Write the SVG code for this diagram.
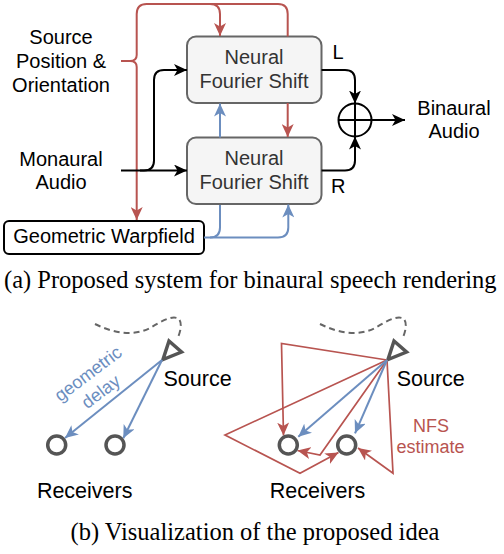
<svg xmlns="http://www.w3.org/2000/svg" width="504" height="554" viewBox="0 0 504 554">
<style>
.t{font-family:"Liberation Sans",Arial,sans-serif;font-size:20px;fill:#000}
.bt{font-family:"Liberation Sans",Arial,sans-serif;font-size:21.5px;fill:#000}
.cap{font-family:"Liberation Serif","Times New Roman",serif;font-size:24.5px;fill:#000}
.nfs{fill:#f5f5f5;stroke:#666;stroke-width:2}
.nt{font-family:"Liberation Sans",Arial,sans-serif;font-size:20px;fill:#333;text-anchor:middle}
.k{fill:none;stroke:#000;stroke-width:2}
.r{fill:none;stroke:#b85450;stroke-width:2}
.b{fill:none;stroke:#6c8ebf;stroke-width:2}
.r2{fill:none;stroke:#b85450;stroke-width:1.7}
.dev{fill:none;stroke:#555;stroke-width:3.5}
.dash{fill:none;stroke:#666;stroke-width:2;stroke-dasharray:6 4}
</style>
<defs>
<marker id="ak" markerUnits="userSpaceOnUse" viewBox="0 0 13 12" refX="13" refY="6" markerWidth="13" markerHeight="12" orient="auto"><path d="M0,0 L13,6 L0,12 L3.5,6 Z" fill="#000"/></marker>
<marker id="ar" markerUnits="userSpaceOnUse" viewBox="0 0 13 12" refX="13" refY="6" markerWidth="13" markerHeight="12" orient="auto"><path d="M0,0 L13,6 L0,12 L3.5,6 Z" fill="#b85450"/></marker>
<marker id="ab" markerUnits="userSpaceOnUse" viewBox="0 0 13 12" refX="13" refY="6" markerWidth="13" markerHeight="12" orient="auto"><path d="M0,0 L13,6 L0,12 L3.5,6 Z" fill="#6c8ebf"/></marker>
</defs>
<rect width="504" height="554" fill="#fff"/>

<g id="src-label">
<text class="t" text-anchor="middle" x="61" y="44">Source</text>
<text class="t" text-anchor="middle" x="61" y="67.5">Position &amp;</text>
<text class="t" text-anchor="middle" x="61" y="91.5">Orientation</text>
</g>
<g id="mono-label">
<text class="t" text-anchor="middle" x="61" y="165.5">Monaural</text>
<text class="t" text-anchor="middle" x="61" y="189">Audio</text>
</g>
<g id="nfs-top">
<rect class="nfs" x="187" y="36.5" width="134.5" height="66.5" rx="9"/>
<text class="nt" x="254" y="64">Neural</text>
<text class="nt" x="254" y="88">Fourier Shift</text>
</g>
<g id="nfs-bottom">
<rect class="nfs" x="187" y="137.5" width="134.5" height="66.5" rx="9"/>
<text class="nt" x="254" y="165">Neural</text>
<text class="nt" x="254" y="189">Fourier Shift</text>
</g>
<g id="warpfield">
<rect x="4" y="221" width="200" height="33" rx="5" fill="#fff" stroke="#000" stroke-width="2"/>
<text class="t" text-anchor="middle" x="104" y="242.5">Geometric Warpfield</text>
</g>
<g id="sum">
<circle cx="355" cy="120" r="16.5" fill="#fff" stroke="#000" stroke-width="2"/>
<path d="M338.5,120 H371.5 M355,103.5 V136.5" stroke="#000" stroke-width="2"/>
</g>
<g id="out-label">
<text class="t" text-anchor="middle" x="454" y="114.5">Binaural</text>
<text class="t" text-anchor="middle" x="454" y="138">Audio</text>
</g>

<g id="connectors">
<path class="r" d="M121,61 H130 Q136.7,61 136.7,55 V14 Q136.7,4 146.7,4 H278 Q287.7,4 287.7,14 V36.5"/>
<path class="r" d="M210,4 Q220,4 220,14 V36" marker-end="url(#ar)"/>
<path class="r" d="M287.7,103 V137" marker-end="url(#ar)"/>
<path class="r" d="M130,61 Q136.7,61 136.7,67 V220" marker-end="url(#ar)"/>
<path class="k" d="M121,170.5 H187" marker-end="url(#ak)"/>
<path class="k" d="M140,170.5 H144 Q154,170.5 154,160.5 V80 Q154,70 164,70 H187" marker-end="url(#ak)"/>
<path class="b" d="M204,237.5 H210 Q220,237.5 220,227.5 V205"/>
<path class="b" d="M220,137.5 V103.5" marker-end="url(#ab)"/>
<path class="b" d="M210,237.5 H278 Q288.3,237.5 288.3,227.5 V204.5" marker-end="url(#ab)"/>
<path class="k" d="M321.5,70 H345 Q355,70 355,80 V103.5" marker-end="url(#ak)"/>
<path class="k" d="M321.5,170.5 H345 Q355,170.5 355,160.5 V136.5" marker-end="url(#ak)"/>
<path class="k" d="M371.5,120 H405" marker-end="url(#ak)"/>
</g>
<text class="t" x="332.5" y="58.5">L</text>
<text class="t" x="331" y="192.5">R</text>

<text class="cap" x="4" y="288">(a) Proposed system for binaural speech rendering</text>

<g id="scene-geometric">
<path class="dash" d="M95,324 C115,334 135,336 150,328 C160,322 170,316 177,318 C183,320 181,332 177,339"/>
<polygon class="dev" points="169,341 181.5,352 163,359.5" stroke-linejoin="miter"/>
<path class="b" d="M162,360 L65,438" marker-end="url(#ab)"/>
<path class="b" d="M162,360 L123.3,438.3" marker-end="url(#ab)"/>
<circle class="dev" cx="56.7" cy="445" r="9"/>
<circle class="dev" cx="115" cy="445" r="9"/>
<g transform="translate(89,375) rotate(-37)" font-family="Liberation Sans, Arial, sans-serif" font-size="18" fill="#6c8ebf" text-anchor="middle">
<text x="0" y="4.5">geometric</text>
<text x="-0.6" y="26.4">delay</text>
</g>
<text class="bt" x="163.5" y="386">Source</text>
<text class="bt" text-anchor="middle" x="84.7" y="498.3">Receivers</text>
</g>

<g id="scene-nfs">
<path class="dash" d="M320,324 C340,334 360,336 375,328 C385,322 395,316 402,318 C408,320 406,332 402,339"/>
<polygon class="dev" points="394,341 406.5,352 388,359.5" stroke-linejoin="miter"/>
<path class="r2" d="M387,360 L281.5,343.5 L283.5,435.5" marker-end="url(#ar)"/>
<path class="r2" d="M387,360 L225,435 L300,473.3 L338.5,452.5" marker-end="url(#ar)"/>
<path class="r2" d="M387,360 L320,455 L297.5,450.5" marker-end="url(#ar)"/>
<path class="r2" d="M387,360 L393,473.3 L358,448" marker-end="url(#ar)"/>
<path class="b" d="M387,360 L298.3,436.7" marker-end="url(#ab)"/>
<path class="b" d="M387,360 L355,433.3" marker-end="url(#ab)"/>
<circle class="dev" cx="288.3" cy="445" r="9"/>
<circle class="dev" cx="346.7" cy="445" r="9"/>
<text class="bt" x="396.7" y="386">Source</text>
<text class="bt" text-anchor="middle" x="317.5" y="498.3">Receivers</text>
<text font-family="Liberation Sans, Arial, sans-serif" font-size="18" fill="#b85450" text-anchor="middle" x="431" y="431.7">NFS</text>
<text font-family="Liberation Sans, Arial, sans-serif" font-size="18" fill="#b85450" text-anchor="middle" x="430.5" y="453.3">estimate</text>
</g>

<text class="cap" text-anchor="middle" x="255" y="539.5">(b) Visualization of the proposed idea</text>
</svg>
